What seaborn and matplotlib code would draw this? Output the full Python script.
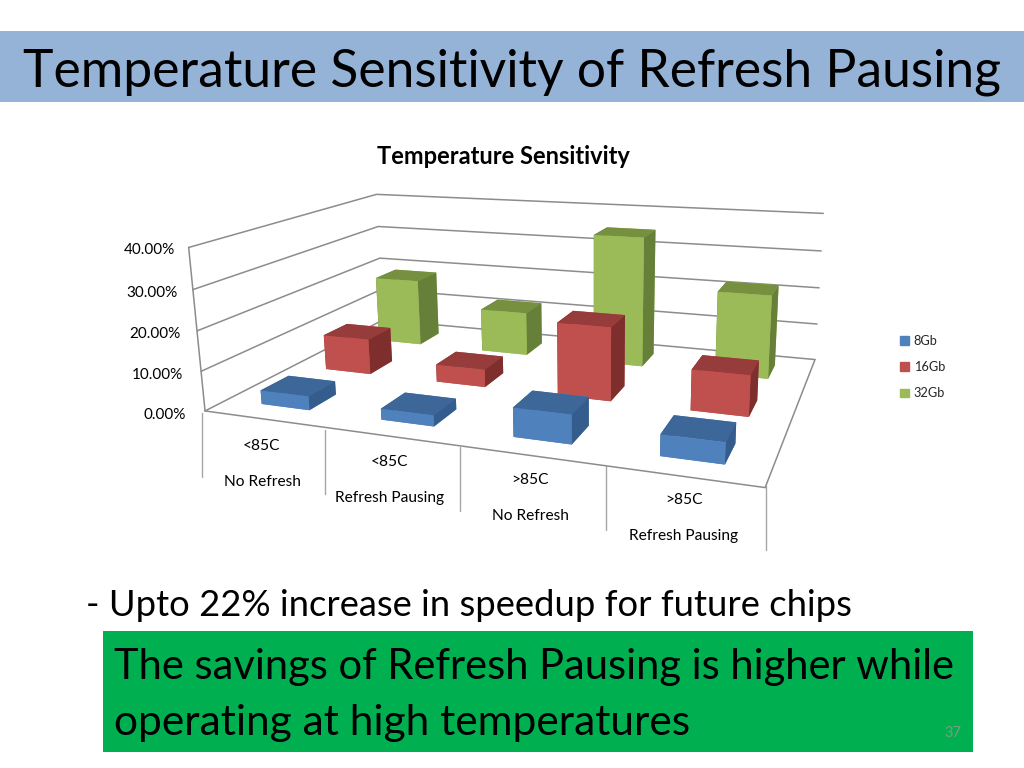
import matplotlib
matplotlib.use("Agg")
import matplotlib.pyplot as plt
from matplotlib.patches import Patch, Rectangle
import seaborn as sns

temps = ["<85C", "<85C", ">85C", ">85C"]
modes = ["No Refresh", "Refresh Pausing", "No Refresh", "Refresh Pausing"]
series = ["8Gb", "16Gb", "32Gb"]
v8 = [3.5, 2.7, 6.9, 4.9]
v16 = [9.5, 4.6, 18.6, 10.1]
v32 = [18.8, 12.0, 35.0, 22.0]
yticks = [0, 10, 20, 30, 40]

sns.set_theme(style="white", font="Lato")
front = sns.color_palette(["#4F81BD", "#C0504D", "#9BBB59"])
top = sns.color_palette(["#3D6798", "#963C3A", "#769040"])
side = sns.color_palette(["#345C8C", "#7E2F2D", "#66803A"])

fig = plt.figure(figsize=(10.24, 7.68), dpi=100)
bg = fig.add_axes([0, 0, 1, 1], zorder=0)
bg.set_xlim(0, 1024)
bg.set_ylim(768, 0)
bg.axis("off")

# camera fitted to the corners of the chart box
L, B, S = 201.30, 134.14, 634.52
ax = fig.add_axes([L / 1024, B / 768, S / 1024, S / 768], projection="3d", zorder=1)
ax.set_facecolor("none")
ax.set_xlim(0, 4, view_margin=0)
ax.set_ylim(0, 3, view_margin=0)
ax.set_zlim(0, 40, view_margin=0)
ax.view_init(14.5334, -68.4796, 0.9439)
ax.set_proj_type("persp", focal_length=0.2998)
ax.set_box_aspect((1.4725, 0.9705, 0.4435), zoom=1)
ax.set_xticks([])
ax.set_yticks([])
ax.set_zticks([])
ax.set_axis_off()
ax.computed_zorder = False

grid = "#8C8C8C"
for z in yticks:
    ax.plot([0, 0, 4], [0, 3, 3], [z, z, z], color=grid, lw=1.1, zorder=1, clip_on=False)
ax.plot([0, 0], [0, 0], [0, 40], color=grid, lw=1.1, zorder=1, clip_on=False)
ax.plot([0, 4, 4], [0, 0, 3], [0, 0, 0], color=grid, lw=1.1, zorder=1, clip_on=False)

w = 0.41
for j, vals in reversed(list(enumerate([v8, v16, v32]))):
    for i, v in enumerate(vals):
        cols = [front[j], top[j], front[j], front[j], side[j], side[j]]
        ax.bar3d(i + 0.51 - w / 2, j + 0.5 - w / 2, 0, w, w, v, color=cols, shade=False,
                 edgecolor="none", zorder=10 + (2 - j) * 10 + i)

for z in yticks:
    ax.text(-0.175 + 0.0014 * z, 0, z - 1.7 + 0.02 * z, "%.2f%%" % z, ha="right", va="center", fontsize=11,
            color="black", zorder=90)

# slide furniture
bg.add_patch(Rectangle((0, 31), 1024, 71, color="#95B3D7", lw=0))
bg.add_patch(Rectangle((103, 631), 870, 121, color="#00B050", lw=0))
bg.text(512, 72, "Temperature Sensitivity of Refresh Pausing", fontsize=37.2, ha="center", va="center", color="black")
bg.text(503, 156, "Temperature Sensitivity", fontsize=17, fontweight="bold", ha="center", va="center", color="black")
bg.text(86, 605, "- Upto 22% increase in speedup for future chips", fontsize=26.2, ha="left", va="center", color="black")
bg.text(114, 667, "The savings of Refresh Pausing is higher while", fontsize=30, ha="left", va="center", color="black")
bg.text(114, 723, "operating at high temperatures", fontsize=30.6, ha="left", va="center", color="black")
bg.text(953, 733, "37", fontsize=10.5, ha="center", va="center", color="#6FA37F")

divider_x = [201.5, 325, 460, 606, 766]
divider_top = [413, 430, 447, 466, 486]
for x, t in zip(divider_x, divider_top):
    bg.plot([x, x], [t, t + 64], color="#A6A6A6", lw=1)
label_x = [262, 390, 530, 684]
label_y = [446, 462, 480, 500]
for x, y, a, b in zip(label_x, label_y, temps, modes):
    bg.text(x, y, a, fontsize=11.2, ha="center", va="center", color="black")
    bg.text(x, y + 36, b, fontsize=11.2, ha="center", va="center", color="black")

handles = [Patch(color=c, label=s) for c, s in zip(front, series)]
fig.legend(handles=handles, loc="upper left", bbox_to_anchor=(0.868, 0.579), frameon=False, fontsize=9.2,
           handlelength=0.65, handleheight=0.65, handletextpad=0.4, labelspacing=1.12)

fig.savefig("out.png", dpi=100)
